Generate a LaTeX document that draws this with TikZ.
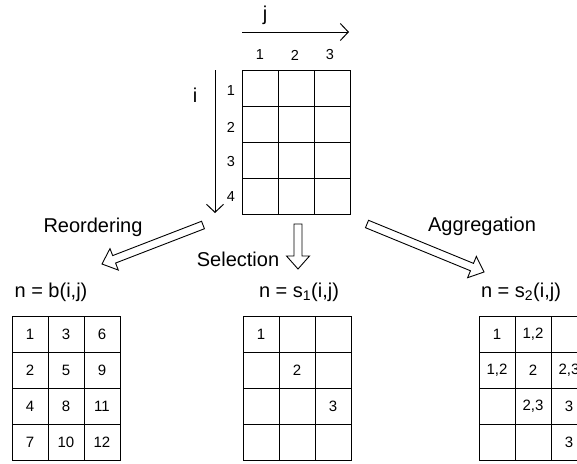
\documentclass[tikz,border=0pt]{standalone}
\usepackage{fontspec}
\setmainfont{Liberation Sans}
\usetikzlibrary{calc,arrows.meta}
\tikzset{
  lbl/.style={font=\fontsize{20}{24}\selectfont, inner sep=0pt},
  idx/.style={font=\fontsize{14.5}{17}\selectfont, inner sep=0pt},
  cell/.style={draw, line width=1pt, minimum width=36pt, minimum height=36pt,
               inner sep=0pt, font=\fontsize{15}{18}\selectfont},
  axis/.style={line width=1pt, -{Straight Barb[length=8pt,width=17pt,line width=1pt]}},
  harrow/.style={line width=0.9pt, line join=miter},
}
\newcommand{\hollowarrow}[2]{%
  \coordinate (ha-h) at ($(#2)!13pt!(#1)$);
  \draw[harrow] ($(#1)!4pt!90:(#2)$) -- ($(ha-h)!4pt!-90:(#1)$) -- ($(ha-h)!11.5pt!-90:(#1)$)
     -- (#2) -- ($(ha-h)!11.5pt!90:(#1)$) -- ($(ha-h)!4pt!90:(#1)$) -- ($(#1)!4pt!-90:(#2)$) -- cycle;
}
\begin{document}
\begin{tikzpicture}[x=1pt,y=-1pt]
\useasboundingbox (0,0) rectangle (577,463);
\clip (0,0) rectangle (577,463);

% top grid
\foreach \r [count=\ri] in {88,124,160,196}{
  \foreach \c [count=\ci] in {260,296,332}{
    \node[cell] (T-\ri-\ci) at (\c,\r) {};
  }
}
% column / row indices
\node[idx] (c1) at (260,55) {1};
\node[idx] (c2) at (295,55) {2};
\node[idx] (c3) at (330,55) {3};
\node[idx] (r1) at (231,91) {1};
\node[idx] (r2) at (231,127) {2};
\node[idx] (r3) at (231,162) {3};
\node[idx] (r4) at (231,197) {4};

% axes
\coordinate (js) at (242,32);
\coordinate (je) at (349,32);
\coordinate (is) at (215,70);
\coordinate (ie) at (215,213);
\draw[axis] (js) -- (je);
\draw[axis] (is) -- (ie);
\node[lbl] (jlab) at (265,15) {j};
\node[lbl] (ilab) at (195,95) {i};

% hollow arrows
\coordinate (ra) at (203,225);
\coordinate (rb) at (102,264);
\coordinate (sa) at (298,224);
\coordinate (sb) at (298,269);
\coordinate (aa) at (367,224);
\coordinate (ab) at (484,272);
\hollowarrow{ra}{rb}
\hollowarrow{sa}{sb}
\hollowarrow{aa}{ab}

\node[lbl] (reord) at (93,227) {Reordering};
\node[lbl] (sel) at (238,259) {Selection};
\node[lbl] (aggr) at (482,226) {Aggregation};

% titles
\node[lbl] (tb) at (51,292.5) {n = b(i,j)};
\node[lbl] (ts1) at (299,292.5) {n = s\textsubscript{1}(i,j)};
\node[lbl] (ts2) at (521,292.5) {n = s\textsubscript{2}(i,j)};

% left grid
\foreach \r/\a/\b/\c [count=\ri] in {334/1/3/6,370/2/5/9,406/4/8/11,442/7/10/12}{
  \node[cell] (L-\ri-1) at (30,\r) {\a};
  \node[cell] (L-\ri-2) at (66,\r) {\b};
  \node[cell] (L-\ri-3) at (102,\r) {\c};
}
% middle grid
\foreach \r/\a/\b/\c [count=\ri] in {334/1//,370//2/,406///3,442///}{
  \node[cell] (M-\ri-1) at (261,\r) {\a};
  \node[cell] (M-\ri-2) at (297,\r) {\b};
  \node[cell] (M-\ri-3) at (333,\r) {\c};
}
% right grid
\foreach \r/\a/\b/\c [count=\ri] in {334/1/{1,2}/,370/{1,2}/2/{2,3},406//{2,3}/3,442///3}{
  \node[cell] (R-\ri-1) at (497,\r) {\a};
  \node[cell] (R-\ri-2) at (533,\r) {\b};
  \node[cell] (R-\ri-3) at (569,\r) {\c};
}
\end{tikzpicture}
\end{document}
